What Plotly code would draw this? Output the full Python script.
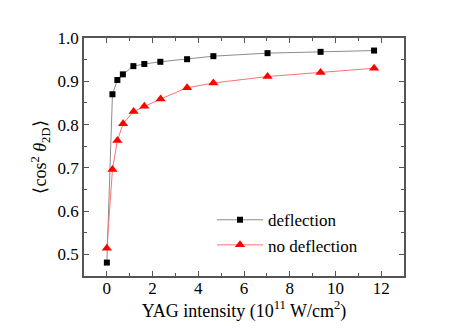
import plotly.graph_objects as go

# data
x_defl = [0.0, 0.245, 0.46, 0.70, 1.16, 1.64, 2.34, 3.51, 4.66, 7.03, 9.35, 11.69]
y_defl = [0.481, 0.870, 0.903, 0.916, 0.935, 0.940, 0.945, 0.951, 0.958, 0.965, 0.968, 0.971]

x_nodefl = [0.0, 0.245, 0.46, 0.71, 1.17, 1.64, 2.35, 3.51, 4.66, 7.03, 9.35, 11.69]
y_nodefl = [0.514, 0.696, 0.763, 0.802, 0.830, 0.842, 0.859, 0.885, 0.896, 0.911, 0.920, 0.930]

x_ticks = [0, 2, 4, 6, 8, 10, 12]
y_ticks = [0.5, 0.6, 0.7, 0.8, 0.9, 1.0]
y_ticktext = ['0.5', '0.6', '0.7', '0.8', '0.9', '1.0']

font_family = "Liberation Serif, serif"

fig = go.Figure()

fig.add_trace(go.Scatter(x=x_defl, y=y_defl, mode='lines+markers',
                         name='deflection',
                         line=dict(color='#8c8c8c', width=1),
                         marker=dict(symbol='square', size=6, color='black')))

fig.add_trace(go.Scatter(x=x_nodefl, y=y_nodefl, mode='lines+markers',
                         name='no deflection',
                         line=dict(color='#ff7070', width=1),
                         marker=dict(symbol='triangle-up', size=9, color='red')))

axis_common = dict(showline=True, linecolor='#555555', linewidth=1.5,
                   mirror='ticks', ticks='inside', ticklen=5, tickwidth=1,
                   tickcolor='#555555', showgrid=False, zeroline=False,
                   tickfont=dict(size=17, color='black', family=font_family))

fig.update_xaxes(range=[-1, 13], tickvals=x_ticks, ticklabelstandoff=-4,
                 minor=dict(ticks='inside', ticklen=3, dtick=1, tick0=0, tickcolor='#555555'),
                 title=dict(text='YAG intensity (10<sup>11</sup> W/cm<sup>2</sup>)',
                            font=dict(size=18, color='black', family=font_family),
                            standoff=0),
                 **axis_common)

fig.update_yaxes(range=[0.45, 1.0], tickvals=y_ticks, ticktext=y_ticktext,
                 minor=dict(ticks='inside', ticklen=3, dtick=0.05, tick0=0.45, tickcolor='#555555'),
                 title=dict(text='\u27e8cos<sup>2</sup> <i>\u03b8</i><sub>2D</sub>\u27e9',
                            font=dict(size=18, color='black', family=font_family),
                            standoff=6),
                 **axis_common)

fig.update_layout(width=469, height=331,
                  margin=dict(l=76, r=73, t=30, b=63),
                  plot_bgcolor='white', paper_bgcolor='white',
                  font=dict(family=font_family, color='black'),
                  legend=dict(x=0.40, y=0.31, xanchor='left', yanchor='top',
                              bgcolor='rgba(0,0,0,0)', itemwidth=46,
                              font=dict(size=17, family=font_family, color='black'),
                              tracegroupgap=0))

fig.write_html("out.html")
